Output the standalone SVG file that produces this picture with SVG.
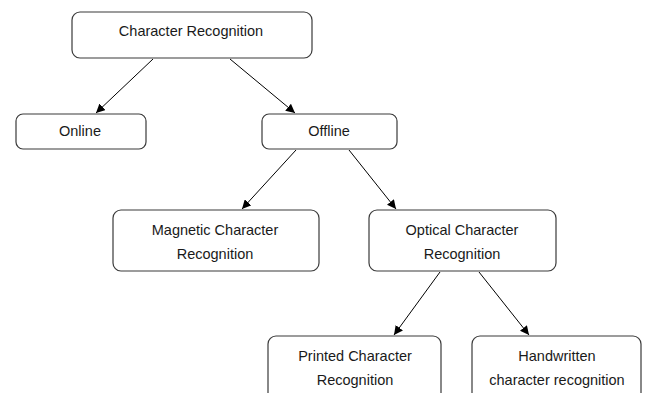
<svg xmlns="http://www.w3.org/2000/svg" width="646" height="393" viewBox="0 0 646 393">
<style>
.box{fill:#fff;stroke:#3a3a3a;stroke-width:1.2}
.t{font-family:"Liberation Sans",Arial,sans-serif;font-size:14.5px;fill:#1a1a1a;text-anchor:middle;dominant-baseline:central}
.c{stroke:#000;stroke-width:1;fill:none;marker-end:url(#ah)}
</style>
<defs>
<marker id="ah" viewBox="0 0 10 10" refX="10" refY="5" markerWidth="9" markerHeight="9" markerUnits="userSpaceOnUse" orient="auto">
<path d="M0,0 L10,5 L0,10 z" fill="#000"/>
</marker>
</defs>
<rect width="646" height="393" fill="#fff"/>
<g id="connectors">
<line class="c" x1="153" y1="59" x2="96" y2="113"/>
<line class="c" x1="230" y1="59" x2="295" y2="113"/>
<line class="c" x1="296" y1="150" x2="242" y2="209"/>
<line class="c" x1="349" y1="150" x2="396" y2="209"/>
<line class="c" x1="440" y1="272" x2="394" y2="335"/>
<line class="c" x1="479" y1="272" x2="529" y2="335"/>
</g>
<g id="n-root"><rect class="box" x="72" y="12" width="240" height="46" rx="8"/><text class="t" x="191" y="31">Character Recognition</text></g>
<g id="n-online"><rect class="box" x="16" y="114" width="130" height="35" rx="7"/><text class="t" x="80" y="131">Online</text></g>
<g id="n-offline"><rect class="box" x="262" y="114" width="135" height="35" rx="7"/><text class="t" x="329" y="131">Offline</text></g>
<g id="n-magnetic"><rect class="box" x="113" y="210" width="206" height="61" rx="8"/><text class="t" x="215" y="230">Magnetic Character</text><text class="t" x="215" y="254">Recognition</text></g>
<g id="n-optical"><rect class="box" x="369" y="210" width="187" height="61" rx="8"/><text class="t" x="462" y="230">Optical Character</text><text class="t" x="462" y="254">Recognition</text></g>
<g id="n-printed"><rect class="box" x="268" y="336" width="173" height="70" rx="8"/><text class="t" x="355" y="356">Printed Character</text><text class="t" x="355" y="380">Recognition</text></g>
<g id="n-handwritten"><rect class="box" x="472" y="336" width="169" height="70" rx="8"/><text class="t" x="557" y="356">Handwritten</text><text class="t" x="557" y="380">character recognition</text></g>
</svg>
